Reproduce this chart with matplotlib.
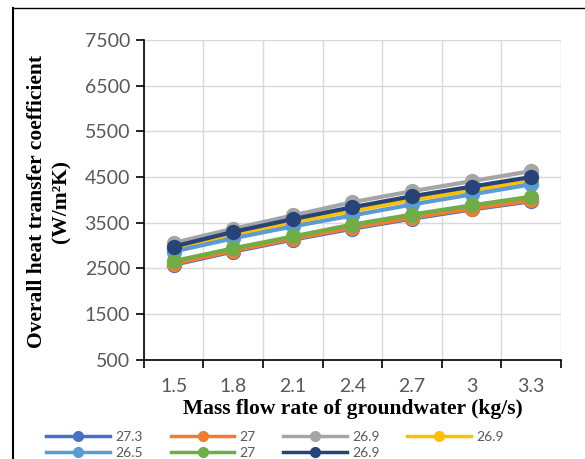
import numpy as np
import matplotlib.pyplot as plt
from matplotlib.lines import Line2D

flow = ['1.5', '1.8', '2.1', '2.4', '2.7', '3', '3.3']
labels = ['27.3', '27', '26.9', '26.9', '26.5', '27', '26.9']
colors = ['#4472C4', '#ED7D31', '#A5A5A5', '#FFC000', '#5B9BD5', '#70AD47', '#264478']

u_blue = [2580, 2870, 3130, 3370, 3590, 3790, 3970]
u_orange = [2600, 2890, 3150, 3390, 3610, 3810, 3990]
u_gray = [3060, 3370, 3660, 3950, 4190, 4410, 4630]
u_yellow = [2930, 3230, 3510, 3760, 4000, 4210, 4410]
u_lightblue = [2870, 3160, 3420, 3660, 3900, 4120, 4340]
u_green = [2660, 2940, 3200, 3460, 3680, 3880, 4070]
u_darkblue = [2980, 3300, 3580, 3840, 4080, 4290, 4500]
series = [u_blue, u_orange, u_gray, u_yellow, u_lightblue, u_green, u_darkblue]

fig = plt.figure(figsize=(5.85, 4.59), dpi=100)
ax = fig.add_axes([0.246, 0.216, 0.713, 0.697])

x = np.arange(len(flow))
for vals, col, lab in zip(series, colors, labels):
    ax.plot(x, vals, color=col, lw=3, marker='o', ms=10, label=lab)

ax.set_xlim(-0.5, 6.5)
ax.set_ylim(500, 7500)
ax.set_yticks(np.arange(500, 7501, 1000))
ax.set_xticks(x)
ax.set_xticklabels(flow)
ax.set_xticks(np.arange(-0.5, 7, 1), minor=True)
ax.tick_params(axis='x', which='major', length=0, pad=13)
ax.tick_params(axis='x', which='minor', length=6, width=1.2, color='black')
ax.tick_params(axis='y', length=6, width=1.2, color='black', pad=4)
ax.grid(True, axis='x', which='minor', color='#d9d9d9', lw=1)
ax.grid(True, axis='y', color='#d9d9d9', lw=1)
ax.set_axisbelow(True)
for lbl in ax.get_xticklabels() + ax.get_yticklabels():
    lbl.set_fontfamily('Lato')
    lbl.set_fontsize(14)
    lbl.set_color('#595959')
ax.spines['top'].set_visible(False)
ax.spines['right'].set_visible(False)
ax.spines['left'].set_linewidth(1.2)
ax.spines['bottom'].set_linewidth(1.2)

ax.set_xlabel('Mass flow rate of groundwater (kg/s)', family='Liberation Serif',
              fontweight='bold', fontsize=15.5, labelpad=3)
fig.text(0.064, 0.562, 'Overall heat transfer coefficient', rotation=90,
         family='Liberation Serif', fontweight='bold', fontsize=15.5, ha='center', va='center')
fig.text(0.105, 0.562, '(W/m\u00b2K)', rotation=90,
         family='Liberation Serif', fontweight='bold', fontsize=15.5, ha='center', va='center')

# row-wise legend order for 4 columns
handles, hl = ax.get_legend_handles_labels()
order = [0, 4, 1, 5, 2, 6, 3]
leg = fig.legend([handles[i] for i in order], [hl[i] for i in order], ncol=4,
                 loc='lower left', bbox_to_anchor=(0.058, -0.028),
                 frameon=False, handlelength=4.6, columnspacing=2.0,
                 labelspacing=0.3, handletextpad=0.35, prop={'family': 'Lato', 'size': 10})
for t in leg.get_texts():
    t.set_color('#595959')
for h in leg.legend_handles:
    h.set_markersize(7)
    h.set_linewidth(2.5)

fig.add_artist(Line2D([0.023, 0.023], [0, 0.983], color='black', lw=1.5))
fig.add_artist(Line2D([0.023, 1], [0.983, 0.983], color='black', lw=1.0))

fig.savefig('out.png', dpi=100)
